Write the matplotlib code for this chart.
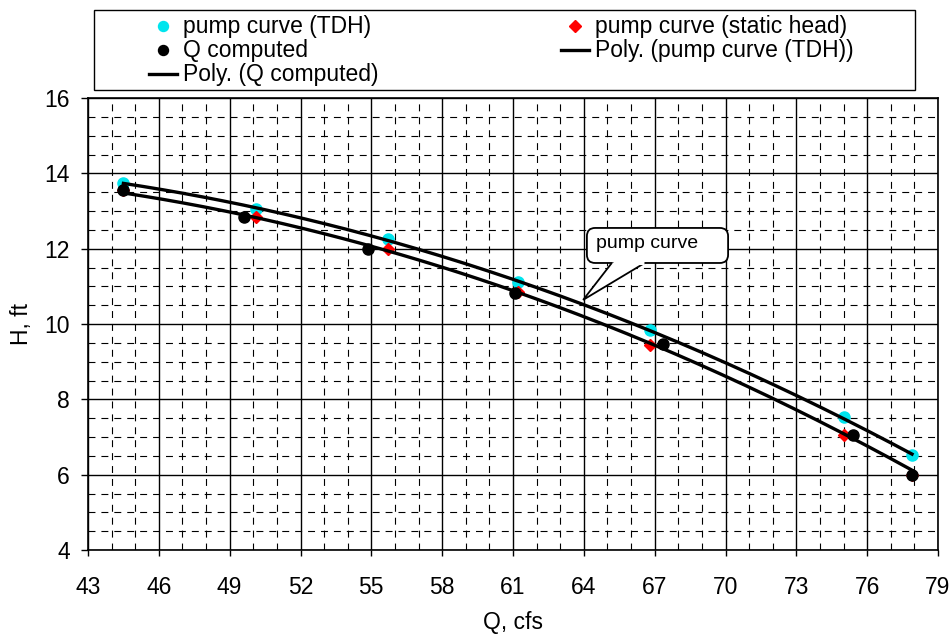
import numpy as np
import matplotlib
matplotlib.use("Agg")
import matplotlib.pyplot as plt
from matplotlib.patches import FancyBboxPatch, Polygon, Rectangle
from matplotlib.lines import Line2D
from matplotlib.ticker import MultipleLocator

plt.rcParams['font.family'] = ['Liberation Sans', 'DejaVu Sans']
plt.rcParams['lines.scale_dashes'] = False

# data
q_tdh = [44.5, 50.1, 55.7, 61.2, 66.8, 75.0, 77.9]
h_tdh = [13.75, 13.05, 12.25, 11.12, 9.83, 7.52, 6.52]
q_static = [44.5, 50.1, 55.7, 61.2, 66.8, 75.0, 77.9]
h_static = [13.55, 12.85, 12.0, 10.85, 9.45, 7.05, 6.0]
q_comp = [44.5, 49.6, 54.85, 61.1, 67.35, 75.4, 77.9]
h_comp = [13.55, 12.85, 12.0, 10.83, 9.47, 7.05, 6.0]
x_ticks = [43, 46, 49, 52, 55, 58, 61, 64, 67, 70, 73, 76, 79]
y_ticks = [4, 6, 8, 10, 12, 14, 16]

W, H = 949, 637
fig = plt.figure(figsize=(W/100, H/100), dpi=100)
ax = fig.add_axes([88/W, 1-550/H, 850/W, 452/H])

ax.set_xlim(43, 79)
ax.set_ylim(4, 16)
ax.set_xticks(x_ticks)
ax.set_yticks(y_ticks)
ax.xaxis.set_minor_locator(MultipleLocator(1))
ax.yaxis.set_minor_locator(MultipleLocator(0.5))
ax.grid(which='major', color='black', linewidth=1.0, linestyle='-')
ax.grid(which='minor', color='black', linewidth=0.8, linestyle=(0, (5, 4.3)))
ax.set_axisbelow(True)
ax.tick_params(which='minor', length=0)
ax.tick_params(axis='x', which='major', length=4.5, width=1, labelsize=16.5, pad=14)
ax.tick_params(axis='y', which='major', length=5, width=1, labelsize=16.5, pad=8)
for s in ax.spines.values():
    s.set_color('black')
    s.set_linewidth(1.2)

p1, = ax.plot(q_tdh, h_tdh, 'o', color='#00e5ee', markersize=8, zorder=3,
              label='pump curve (TDH)')
p2, = ax.plot(q_static, h_static, 'D', color='#ff0000', markersize=6.5, zorder=4,
              label='pump curve (static head)')
p3, = ax.plot(q_comp, h_comp, 'o', color='black', markersize=8, zorder=5,
              label='Q computed')

c_tdh = np.polyfit(q_tdh, h_tdh, 2)
xs1 = np.linspace(min(q_tdh), max(q_tdh), 200)
l1, = ax.plot(xs1, np.polyval(c_tdh, xs1), color='black', linewidth=2.4, zorder=6,
              label='Poly. (pump curve (TDH))')
c_comp = np.polyfit(q_comp, h_comp, 2)
xs2 = np.linspace(min(q_comp), max(q_comp), 200)
l2, = ax.plot(xs2, np.polyval(c_comp, xs2), color='black', linewidth=2.4, zorder=6,
              label='Poly. (Q computed)')

ax.set_xlabel('Q, cfs', fontsize=16.5, labelpad=9)
ax.set_ylabel('H, ft', fontsize=16.5, labelpad=8)

# callout (data coordinates)
box = FancyBboxPatch((64.13, 11.62), 70.11 - 64.13, 12.55 - 11.62,
                     boxstyle='round,pad=0,rounding_size=0.35',
                     facecolor='white', edgecolor='black', linewidth=1.3, zorder=7,
                     mutation_aspect=0.627)
ax.add_patch(box)
wedge = Polygon([(65.19, 11.625), (63.97, 10.64), (66.59, 11.625)], closed=False,
                facecolor='white', edgecolor='black', linewidth=1.3, zorder=8)
ax.add_patch(wedge)
ax.plot([65.24, 66.54], [11.625, 11.625], color='white', linewidth=2.2,
        solid_capstyle='butt', zorder=9)
ax.text(64.5, 12.15, 'pump curve', fontsize=14, va='center', ha='left', zorder=10)

# legend drawn in figure pixel coordinates
def fx(px):
    return px / W

def fy(py):
    return 1 - py / H

fig.patches.append(Rectangle((fx(94), fy(90)), fx(915) - fx(94), fy(10) - fy(90),
                             transform=fig.transFigure, facecolor='white',
                             edgecolor='black', linewidth=1.0, zorder=1))
entries = [
    (p1, 163, 183, 26), (p3, 163, 183, 50), (l2, 163, 183, 74),
    (p2, 575, 595, 26), (l1, 575, 595, 50),
]
for h, mx, tx, yy in entries:
    if h.get_linestyle() == 'None':
        fig.add_artist(Line2D([fx(mx)], [fy(yy)], marker=h.get_marker(),
                              color=h.get_color(), markersize=h.get_markersize() * 0.9,
                              linestyle='None', transform=fig.transFigure, zorder=2))
    else:
        fig.add_artist(Line2D([fx(mx - 14), fx(mx + 14)], [fy(yy), fy(yy)],
                              color='black', linewidth=2.4,
                              transform=fig.transFigure, zorder=2))
    fig.text(fx(tx), fy(yy), h.get_label(), fontsize=16.5, va='center', ha='left',
             zorder=3)

fig.savefig('out.png', dpi=100)
